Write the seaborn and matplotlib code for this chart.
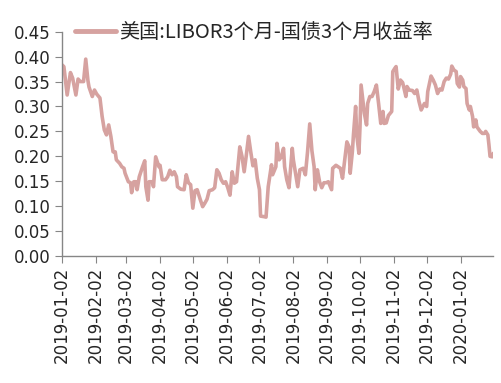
import matplotlib
matplotlib.use('Agg')
import matplotlib.pyplot as plt
import matplotlib.dates as mdates
import seaborn as sns
import pandas as pd

sns.set_style('white')
plt.rcParams['font.family'] = ['Noto Sans CJK SC', 'DejaVu Sans']
plt.rcParams['axes.unicode_minus'] = False

# 数据：日期与利差
dates = [
    '2019-01-02', '2019-01-04', '2019-01-07', '2019-01-10', '2019-01-12', '2019-01-15',
    '2019-01-17', '2019-01-19', '2019-01-22', '2019-01-24', '2019-01-26', '2019-01-27',
    '2019-01-30', '2019-02-01', '2019-02-03', '2019-02-06', '2019-02-08', '2019-02-10',
    '2019-02-12', '2019-02-14', '2019-02-16', '2019-02-18', '2019-02-20', '2019-02-21',
    '2019-02-24', '2019-02-26', '2019-02-28', '2019-03-01', '2019-03-04', '2019-03-06',
    '2019-03-07', '2019-03-09', '2019-03-11', '2019-03-12', '2019-03-14', '2019-03-17',
    '2019-03-19', '2019-03-20', '2019-03-22', '2019-03-23', '2019-03-26', '2019-03-27',
    '2019-03-29', '2019-04-01', '2019-04-02', '2019-04-04', '2019-04-07', '2019-04-09',
    '2019-04-11', '2019-04-13', '2019-04-15', '2019-04-17', '2019-04-18', '2019-04-21',
    '2019-04-24', '2019-04-26', '2019-04-28', '2019-04-30', '2019-05-02', '2019-05-04',
    '2019-05-06', '2019-05-09', '2019-05-11', '2019-05-13', '2019-05-15', '2019-05-17',
    '2019-05-20', '2019-05-22', '2019-05-24', '2019-05-26', '2019-05-28', '2019-05-30',
    '2019-06-01', '2019-06-03', '2019-06-05', '2019-06-07', '2019-06-09', '2019-06-11',
    '2019-06-14', '2019-06-16', '2019-06-18', '2019-06-20', '2019-06-22', '2019-06-24',
    '2019-06-26', '2019-06-28', '2019-06-30', '2019-07-02', '2019-07-03', '2019-07-06',
    '2019-07-08', '2019-07-10', '2019-07-13', '2019-07-14', '2019-07-17', '2019-07-18',
    '2019-07-20', '2019-07-22', '2019-07-24', '2019-07-25', '2019-07-27', '2019-07-29',
    '2019-08-01', '2019-08-02', '2019-08-04', '2019-08-06', '2019-08-08', '2019-08-11',
    '2019-08-13', '2019-08-15', '2019-08-17', '2019-08-19', '2019-08-21', '2019-08-22',
    '2019-08-24', '2019-08-26', '2019-08-28', '2019-08-30', '2019-09-01', '2019-09-03',
    '2019-09-06', '2019-09-07', '2019-09-10', '2019-09-12', '2019-09-14', '2019-09-16',
    '2019-09-18', '2019-09-20', '2019-09-22', '2019-09-23', '2019-09-25', '2019-09-26',
    '2019-09-28', '2019-09-29', '2019-10-01', '2019-10-02', '2019-10-03', '2019-10-05',
    '2019-10-06', '2019-10-08', '2019-10-09', '2019-10-11', '2019-10-13', '2019-10-15',
    '2019-10-17', '2019-10-19', '2019-10-21', '2019-10-23', '2019-10-24', '2019-10-26',
    '2019-10-28', '2019-10-31', '2019-11-01', '2019-11-03', '2019-11-04', '2019-11-06',
    '2019-11-08', '2019-11-10', '2019-11-11', '2019-11-13', '2019-11-14', '2019-11-16',
    '2019-11-19', '2019-11-21', '2019-11-23', '2019-11-25', '2019-11-27', '2019-11-30',
    '2019-12-02', '2019-12-03', '2019-12-06', '2019-12-08', '2019-12-10', '2019-12-12',
    '2019-12-14', '2019-12-16', '2019-12-18', '2019-12-20', '2019-12-22', '2019-12-24',
    '2019-12-25', '2019-12-27', '2019-12-29', '2019-12-30', '2020-01-01', '2020-01-02',
    '2020-01-04', '2020-01-05', '2020-01-07', '2020-01-08', '2020-01-10', '2020-01-11',
    '2020-01-13', '2020-01-14', '2020-01-16', '2020-01-17', '2020-01-20', '2020-01-22',
    '2020-01-24', '2020-01-25', '2020-01-27', '2020-01-28', '2020-01-29', '2020-01-31',
    '2020-02-01',
]
spread = [
    0.384, 0.380, 0.323, 0.368, 0.357, 0.323,
    0.355, 0.350, 0.350, 0.395, 0.352, 0.339,
    0.320, 0.333, 0.325, 0.317, 0.280, 0.253,
    0.243, 0.263, 0.240, 0.209, 0.209, 0.193,
    0.186, 0.179, 0.176, 0.166, 0.149, 0.147,
    0.127, 0.149, 0.149, 0.133, 0.159, 0.179,
    0.191, 0.139, 0.112, 0.149, 0.149, 0.139,
    0.199, 0.179, 0.182, 0.153, 0.153, 0.159,
    0.172, 0.163, 0.169, 0.159, 0.139, 0.134,
    0.133, 0.163, 0.147, 0.143, 0.096, 0.131,
    0.133, 0.112, 0.099, 0.106, 0.114, 0.131,
    0.133, 0.137, 0.173, 0.166, 0.153, 0.146,
    0.149, 0.137, 0.122, 0.169, 0.146, 0.149,
    0.219, 0.200, 0.169, 0.203, 0.240, 0.209,
    0.181, 0.193, 0.156, 0.133, 0.080, 0.079,
    0.078, 0.139, 0.183, 0.163, 0.179, 0.226,
    0.193, 0.199, 0.216, 0.179, 0.153, 0.137,
    0.216, 0.193, 0.166, 0.139, 0.173, 0.176,
    0.163, 0.209, 0.265, 0.211, 0.179, 0.133,
    0.173, 0.149, 0.137, 0.147, 0.147, 0.149,
    0.133, 0.176, 0.182, 0.179, 0.176, 0.156,
    0.193, 0.229, 0.219, 0.166, 0.209, 0.243,
    0.300, 0.243, 0.206, 0.259, 0.343, 0.306,
    0.286, 0.263, 0.306, 0.320, 0.320, 0.330,
    0.343, 0.306, 0.266, 0.290, 0.266, 0.267,
    0.282, 0.290, 0.370, 0.377, 0.380, 0.335,
    0.353, 0.348, 0.339, 0.320, 0.340, 0.333,
    0.332, 0.326, 0.333, 0.310, 0.293, 0.306,
    0.300, 0.330, 0.361, 0.353, 0.343, 0.326,
    0.335, 0.333, 0.350, 0.357, 0.355, 0.365,
    0.381, 0.373, 0.370, 0.346, 0.339, 0.360,
    0.353, 0.340, 0.336, 0.306, 0.293, 0.300,
    0.280, 0.259, 0.273, 0.259, 0.250, 0.246,
    0.246, 0.250, 0.243, 0.223, 0.200, 0.199,
    0.206,
]
series_name = '美国:LIBOR3个月-国债3个月收益率'
# 每月2日一个刻度
tick_dates = pd.date_range('2019-01-01', '2020-01-01', freq='MS') + pd.Timedelta(days=1)

df = pd.DataFrame({'date': pd.to_datetime(dates), 'value': spread})

fig = plt.figure(figsize=(5.02, 3.83), dpi=100)
ax = fig.add_axes([0.1229, 0.3316, 0.8598, 0.5856])

sns.lineplot(data=df, x='date', y='value', ax=ax, color='#D6A2A0',
             linewidth=2.6, label=series_name)

ax.set_xlim(df['date'].min(), df['date'].max())
ax.set_ylim(0, 0.45)
ax.set_yticks([i * 0.05 for i in range(10)])
ax.yaxis.set_major_formatter(matplotlib.ticker.FormatStrFormatter('%.2f'))
ax.set_xticks(tick_dates)
ax.xaxis.set_major_formatter(mdates.DateFormatter('%Y-%m-%d'))
ax.tick_params(axis='x', labelrotation=90, labelsize=12, length=5, color='#868686',
               direction='out', bottom=True, pad=3)
ax.tick_params(axis='y', labelsize=12, length=5, color='#868686',
               direction='out', left=True, pad=3)
for lab in ax.get_xticklabels() + ax.get_yticklabels():
    lab.set_family('DejaVu Sans')

ax.set_xlabel('')
ax.set_ylabel('')
ax.grid(False)
for side in ['top', 'right']:
    ax.spines[side].set_visible(False)
for side in ['left', 'bottom']:
    ax.spines[side].set_color('#868686')
    ax.spines[side].set_linewidth(1)

leg = ax.legend(loc='center left', bbox_to_anchor=(0.149, 0.916), bbox_transform=fig.transFigure,
                frameon=False, fontsize=14.5, handlelength=2.05, handletextpad=0.15,
                borderaxespad=0, borderpad=0)
for line in leg.get_lines():
    line.set_linewidth(3.5)

fig.savefig('out.png', dpi=100)
